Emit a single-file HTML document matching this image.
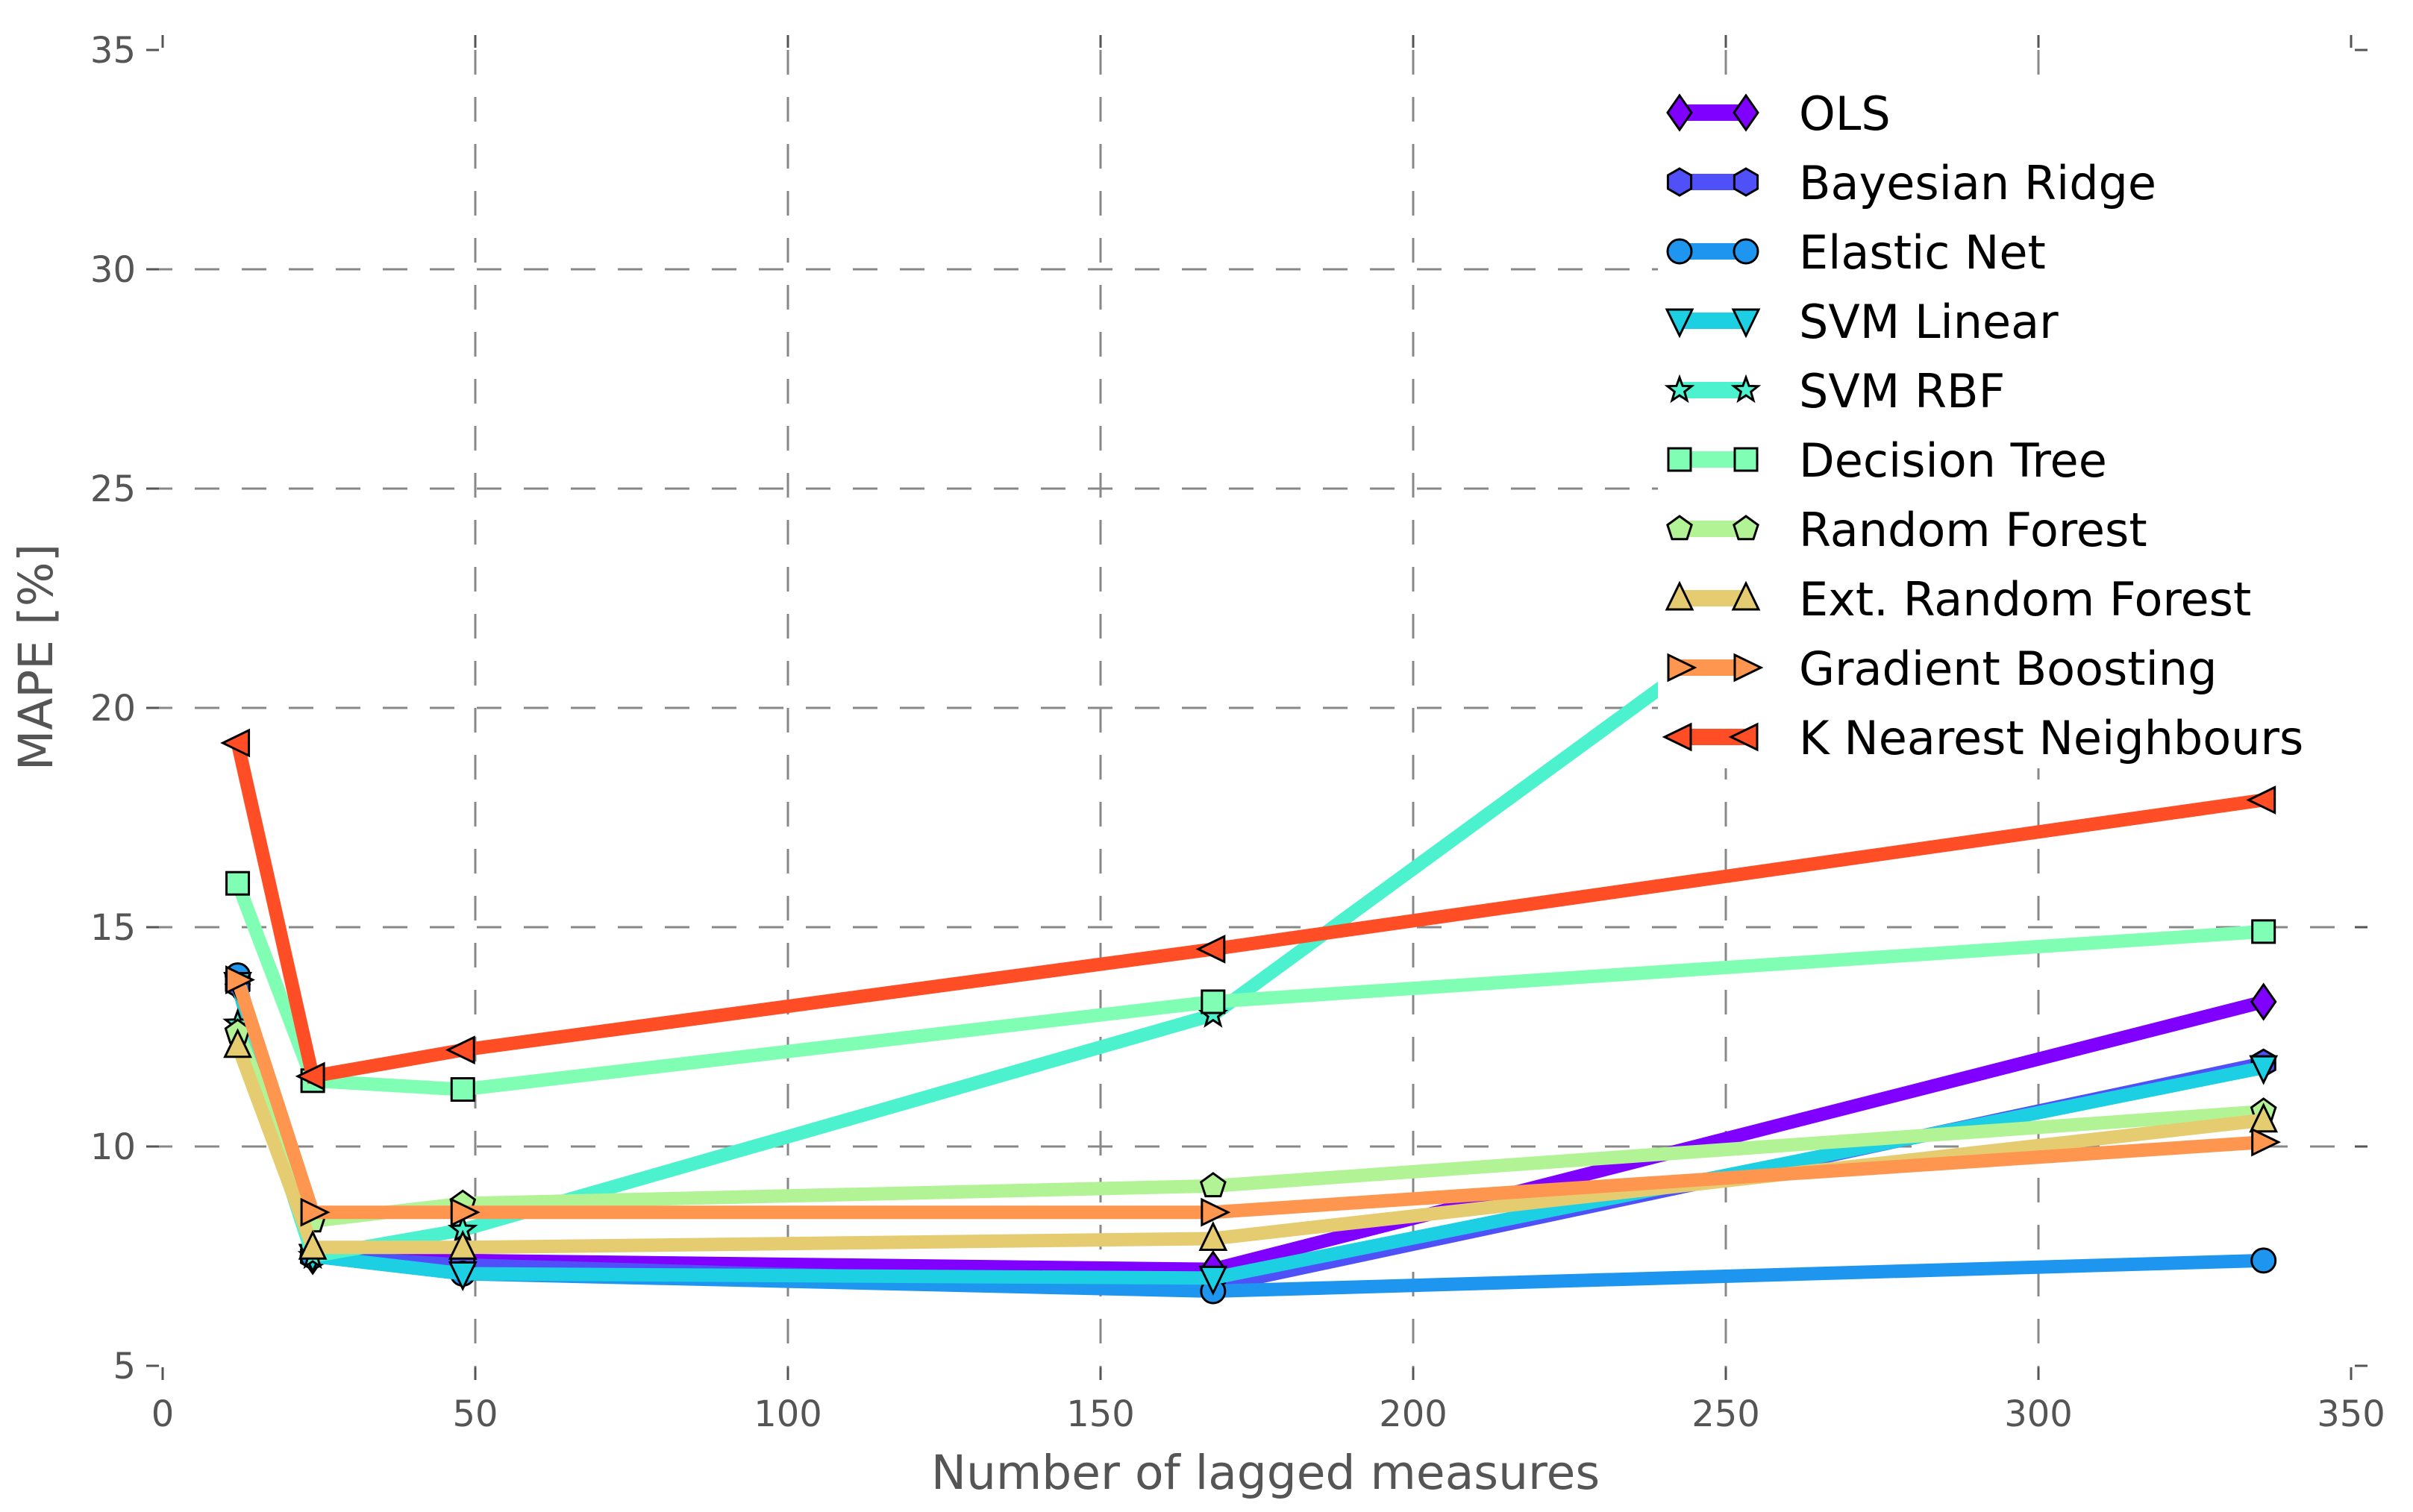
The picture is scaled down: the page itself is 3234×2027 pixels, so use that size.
<!DOCTYPE html>
<html><head><meta charset="utf-8"><style>
html,body{margin:0;padding:0;background:#fff}
svg{display:block;font-family:"DejaVu Sans","Liberation Sans",sans-serif}
</style></head><body>
<svg id="chart" width="3234" height="2027" viewBox="0 0 3234 2027" xmlns="http://www.w3.org/2000/svg">
<g id="grid"></g>
<g id="ticks"></g>
<g id="series"></g>
<rect x="2222" y="100" width="960" height="930" fill="#fff"/>
<g id="legend"></g>
<text x="1696" y="1996" font-size="63" fill="#555" text-anchor="middle">Number of lagged measures</text>
<text transform="translate(70,881) rotate(-90)" font-size="63" fill="#555" text-anchor="middle">MAPE [%]</text>
</svg>
<script>
const lags = [12, 24, 48, 168, 336];
const names = ["OLS","Bayesian Ridge","Elastic Net","SVM Linear","SVM RBF","Decision Tree","Random Forest","Ext. Random Forest","Gradient Boosting","K Nearest Neighbours"];
const olsVals = [13.7, 7.5, 7.4, 7.2, 13.3];
const bayesVals = [13.7, 7.5, 7.3, 6.8, 11.9];
const enetVals = [13.9, 7.5, 7.1, 6.7, 7.4];
const svmLinVals = [13.7, 7.5, 7.1, 7.0, 11.8];
const svmRbfVals = [12.8, 7.5, 8.1, 13.0, 30.5];
const treeVals = [16.0, 11.5, 11.3, 13.3, 14.9];
const rfVals = [12.6, 8.3, 8.7, 9.1, 10.8];
const etVals = [12.3, 7.7, 7.7, 7.9, 10.6];
const gbVals = [13.8, 8.5, 8.5, 8.5, 10.1];
const knnVals = [19.2, 11.6, 12.2, 14.5, 17.9];
const xTicks = [0,50,100,150,200,250,300,350];
const yTicks = [5,10,15,20,25,30,35];

const seriesVals = [olsVals,bayesVals,enetVals,svmLinVals,svmRbfVals,treeVals,rfVals,etVals,gbVals,knnVals];
const colors = ["#8000ff","#5050f8","#1e96f0","#1ccfe2","#4cf2ce","#80ffb4","#b2f396","#e6cc70","#ff9650","#ff4d26"];
const markers = ["D","h","o","v","*","s","p","^",">","<"];

const NS="http://www.w3.org/2000/svg";
const X0=218, X1=3151, Y0=1831, Y1=67;
function xs(v){return X0+(v-0)/(350-0)*(X1-X0);}
function ys(v){return Y0-(v-5)/(35-5)*(Y0-Y1);}
function mk(tag,attrs,parent){const e=document.createElementNS(NS,tag);for(const k in attrs)e.setAttribute(k,attrs[k]);parent.appendChild(e);return e;}

const grid=document.getElementById('grid');
const ticks=document.getElementById('ticks');
xTicks.forEach(t=>{
  const x=xs(t);
  if(t>0&&t<350){const l=mk('line',{x1:x,y1:Y1,x2:x,y2:Y0+19,stroke:'#888','stroke-width':3,'stroke-dasharray':'33 30'},grid);
    
    }
  const tb=mk('line',{x1:x,y1:1833,x2:x,y2:1850,stroke:'#555','stroke-width':3},ticks);
  
  
  const tt=mk('line',{x1:x,y1:47,x2:x,y2:64,stroke:'#555','stroke-width':3},ticks);
  
  
  const lab=mk('text',{x:x,y:1912,'font-size':48,fill:'#555','text-anchor':'middle'},ticks);
  lab.textContent=t;
  
  
});
yTicks.forEach(t=>{
  const y=ys(t);
  if(t>5&&t<35){const l=mk('line',{x1:X0-20,y1:y,x2:X1+20,y2:y,stroke:'#888','stroke-width':3,'stroke-dasharray':'33 30'},grid);
    
    }
  const tl=mk('line',{x1:196,y1:y,x2:213,y2:y,stroke:'#555','stroke-width':3},ticks);
  
  
  const tr=mk('line',{x1:X1+5,y1:y,x2:X1+22,y2:y,stroke:'#555','stroke-width':3},ticks);
  
  
  const lab=mk('text',{x:182,y:y+17,'font-size':48,fill:'#555','text-anchor':'end'},ticks);
  lab.textContent=t;
  
  
});

function marker(type,cx,cy,color,parent){
  const r=16;let e;
  const st={fill:color,stroke:'#000','stroke-width':3};
  function poly(pts){return mk('polygon',Object.assign({points:pts.map(p=>(cx+p[0])+','+(cy+p[1])).join(' ')},st),parent);}
  function reg(n,rad,rot){const p=[];for(let i=0;i<n;i++){const a=rot+i*2*Math.PI/n;p.push([rad*Math.cos(a),rad*Math.sin(a)]);}return poly(p);}
  switch(type){
    case 'D': e=poly([[0,-23],[16,0],[0,23],[-16,0]]);break;
    case 'h': e=reg(6,18,-Math.PI/2);break;
    case 'o': e=mk('circle',Object.assign({cx:cx,cy:cy,r:r},st),parent);break;
    case 'v': e=poly([[-17,-15],[17,-15],[0,20]]);break;
    case '^': e=poly([[-17,15],[17,15],[0,-20]]);break;
    case '>': e=poly([[-15,-17],[-15,17],[20,0]]);break;
    case '<': e=poly([[15,-17],[15,17],[-20,0]]);break;
    case 's': e=mk('rect',Object.assign({x:cx-15,y:cy-15,width:30,height:30},st),parent);break;
    case 'p': e=reg(5,17,-Math.PI/2);break;
    case '*': {const p=[];for(let i=0;i<10;i++){const a=-Math.PI/2+i*Math.PI/5;const rr=i%2?7:17;p.push([rr*Math.cos(a),rr*Math.sin(a)]);}e=poly(p);break;}
  }
  return e;
}

const sg=document.getElementById('series');
seriesVals.forEach((vals,i)=>{
  const g=mk('g',{},sg);
  
  
  const pts=vals.map((v,j)=>xs(lags[j])+','+ys(v)).join(' ');
  const pl=mk('polyline',{points:pts,fill:'none',stroke:colors[i],'stroke-width':18,'stroke-linejoin':'miter'},g);
  
  
  vals.forEach((v,j)=>{
    const m=marker(markers[i],xs(lags[j]),ys(v),colors[i],g);
    
    
  });
});

const lg=document.getElementById('legend');
names.forEach((n,i)=>{
  const y=151+93*i;
  const g=mk('g',{},lg);
  
  
  mk('line',{x1:2251,y1:y,x2:2340,y2:y,stroke:colors[i],'stroke-width':22},g);
  marker(markers[i],2251,y,colors[i],g);
  marker(markers[i],2340,y,colors[i],g);
  const t=mk('text',{x:2411,y:y+23,'font-size':62,fill:'#000'},g);
  t.textContent=n;
  
  
});
</script>
</body></html>
